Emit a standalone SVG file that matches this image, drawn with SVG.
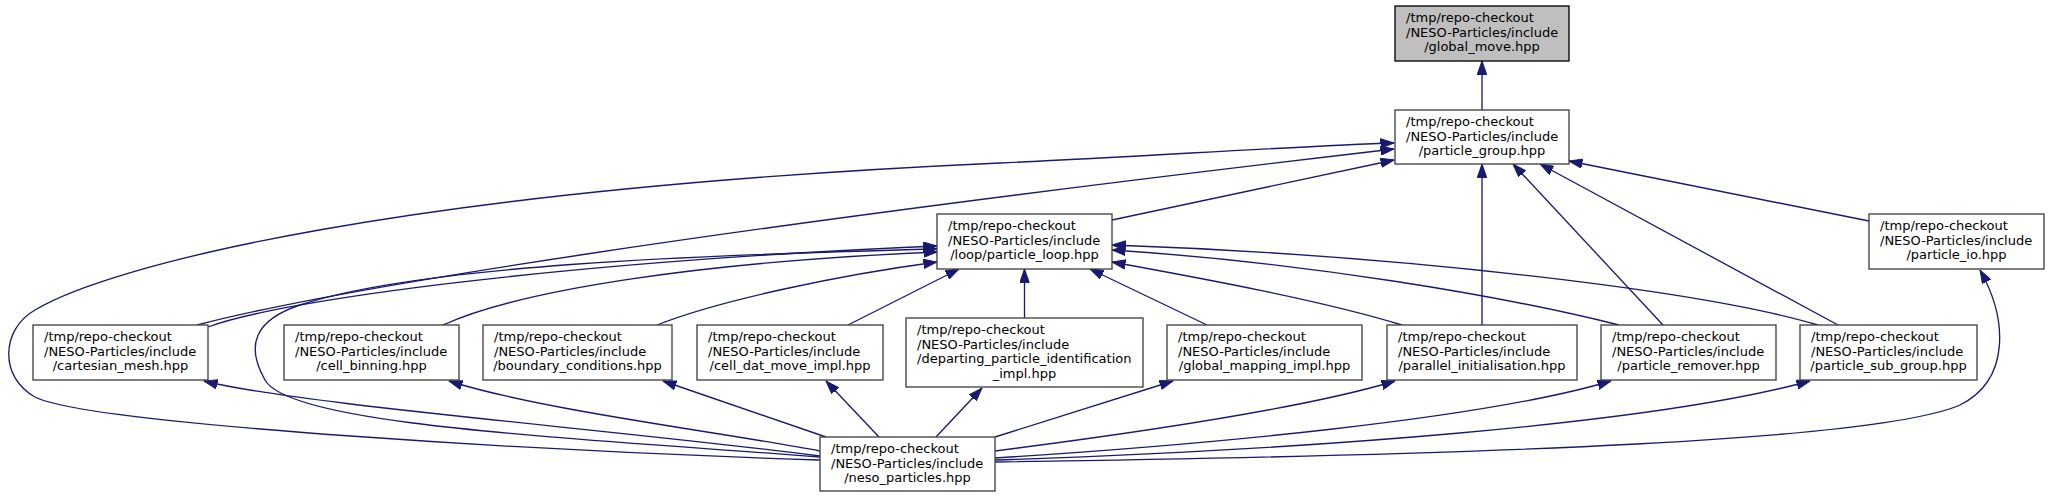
<svg xmlns="http://www.w3.org/2000/svg" width="2049" height="497" viewBox="0 0 2049 497">
<style>
.node rect{fill:#ffffff;stroke:#404040;stroke-width:1.33}
.root rect{fill:#bfbfbf;stroke:#000000}
text{font-family:"DejaVu Sans","Liberation Sans",sans-serif;font-size:13px;fill:#000000}
.c{text-anchor:middle}
.edges path{fill:none;stroke:#191970;stroke-width:1.33;marker-end:url(#arr)}
</style>
<defs>
<marker id="arr" markerUnits="userSpaceOnUse" markerWidth="14" markerHeight="10" viewBox="0 0 14 10" refX="13.5" refY="5" orient="auto">
<path d="M0,0.3 L13.5,5 L0,9.7 z" fill="#191970" stroke="#191970" stroke-width="1"/>
</marker>
</defs>
<rect width="2049" height="497" fill="#ffffff"/>
<g class="edges" id="edges">
<path d="M1482,110 L1482,61"/>
<path d="M1112,220 L1394,160"/>
<path d="M197,325 C330,290 700,230 1394,149"/>
<path d="M820,460 C560,452 90,425 35,397 C0,378 0,330 35,310 C110,265 400,190 1000,163 C1150,156 1300,146 1394,143"/>
<path d="M1482,325 L1482,164"/>
<path d="M1663,325 L1513,164"/>
<path d="M1838,325 L1540,164"/>
<path d="M1869,221 L1569,161"/>
<path d="M208,327 C280,300 560,262 937,246"/>
<path d="M820,457 C560,437 290,425 265,380 C245,345 255,320 300,305 C420,265 700,255 937,249"/>
<path d="M443,325 C520,290 700,262 937,252"/>
<path d="M657,325 C720,300 840,275 937,262"/>
<path d="M848,325 L959,269"/>
<path d="M1024.5,318 L1024.5,269"/>
<path d="M1207,325 L1090,269"/>
<path d="M1402,325 C1320,300 1200,278 1112,262"/>
<path d="M1619,325 C1500,295 1300,262 1112,250"/>
<path d="M1818,325 C1700,290 1400,255 1112,245"/>
<path d="M820,456 C620,430 300,405 204,381"/>
<path d="M820,451 C720,432 540,410 449,381"/>
<path d="M826,437 L663,381"/>
<path d="M879,437 L826,381"/>
<path d="M936,437 L982,388"/>
<path d="M995,437 L1173,381"/>
<path d="M995,451 C1120,435 1300,410 1395,381"/>
<path d="M995,458 C1200,445 1480,420 1611,381"/>
<path d="M995,460 C1300,450 1650,425 1810,381"/>
<path d="M995,462 C1500,455 1880,440 1960,405 C2010,380 2008,320 1980,270"/>
</g>
<g class="node root" id="node_global_move">
<rect x="1395" y="6" width="174" height="55"/>
<text x="1406" y="22">/tmp/repo-checkout</text>
<text x="1406" y="36.5">/NESO-Particles/include</text>
<text class="c" x="1482" y="51">/global_move.hpp</text>
</g>
<g class="node" id="node_particle_group">
<rect x="1395" y="110" width="174" height="54"/>
<text x="1406" y="126">/tmp/repo-checkout</text>
<text x="1406" y="140.5">/NESO-Particles/include</text>
<text class="c" x="1482" y="155">/particle_group.hpp</text>
</g>
<g class="node" id="node_particle_loop">
<rect x="937" y="214" width="175" height="55"/>
<text x="948" y="230">/tmp/repo-checkout</text>
<text x="948" y="244.5">/NESO-Particles/include</text>
<text class="c" x="1024.5" y="259">/loop/particle_loop.hpp</text>
</g>
<g class="node" id="node_particle_io">
<rect x="1869" y="214" width="175" height="55"/>
<text x="1880" y="230">/tmp/repo-checkout</text>
<text x="1880" y="244.5">/NESO-Particles/include</text>
<text class="c" x="1956.5" y="259">/particle_io.hpp</text>
</g>
<g class="node" id="node_cartesian_mesh">
<rect x="33" y="325" width="175" height="55"/>
<text x="44" y="341">/tmp/repo-checkout</text>
<text x="44" y="355.5">/NESO-Particles/include</text>
<text class="c" x="120.5" y="370">/cartesian_mesh.hpp</text>
</g>
<g class="node" id="node_cell_binning">
<rect x="284" y="325" width="175" height="55"/>
<text x="295" y="341">/tmp/repo-checkout</text>
<text x="295" y="355.5">/NESO-Particles/include</text>
<text class="c" x="371.5" y="370">/cell_binning.hpp</text>
</g>
<g class="node" id="node_boundary_conditions">
<rect x="483" y="325" width="189" height="55"/>
<text x="494" y="341">/tmp/repo-checkout</text>
<text x="494" y="355.5">/NESO-Particles/include</text>
<text class="c" x="577.5" y="370">/boundary_conditions.hpp</text>
</g>
<g class="node" id="node_cell_dat_move_impl">
<rect x="697" y="325" width="186" height="55"/>
<text x="708" y="341">/tmp/repo-checkout</text>
<text x="708" y="355.5">/NESO-Particles/include</text>
<text class="c" x="790" y="370">/cell_dat_move_impl.hpp</text>
</g>
<g class="node" id="node_departing">
<rect x="906" y="318" width="237" height="69"/>
<text x="917" y="334">/tmp/repo-checkout</text>
<text x="917" y="348.5">/NESO-Particles/include</text>
<text x="917" y="363">/departing_particle_identification</text>
<text class="c" x="1024.5" y="377.5">_impl.hpp</text>
</g>
<g class="node" id="node_global_mapping_impl">
<rect x="1167" y="325" width="195" height="55"/>
<text x="1178" y="341">/tmp/repo-checkout</text>
<text x="1178" y="355.5">/NESO-Particles/include</text>
<text class="c" x="1264.5" y="370">/global_mapping_impl.hpp</text>
</g>
<g class="node" id="node_parallel_initialisation">
<rect x="1387" y="325" width="190" height="55"/>
<text x="1398" y="341">/tmp/repo-checkout</text>
<text x="1398" y="355.5">/NESO-Particles/include</text>
<text class="c" x="1482" y="370">/parallel_initialisation.hpp</text>
</g>
<g class="node" id="node_particle_remover">
<rect x="1601" y="325" width="175" height="55"/>
<text x="1612" y="341">/tmp/repo-checkout</text>
<text x="1612" y="355.5">/NESO-Particles/include</text>
<text class="c" x="1688.5" y="370">/particle_remover.hpp</text>
</g>
<g class="node" id="node_particle_sub_group">
<rect x="1800" y="325" width="177" height="55"/>
<text x="1811" y="341">/tmp/repo-checkout</text>
<text x="1811" y="355.5">/NESO-Particles/include</text>
<text class="c" x="1888.5" y="370">/particle_sub_group.hpp</text>
</g>
<g class="node" id="node_neso_particles">
<rect x="820" y="437" width="175" height="54"/>
<text x="831" y="453">/tmp/repo-checkout</text>
<text x="831" y="467.5">/NESO-Particles/include</text>
<text class="c" x="907.5" y="482">/neso_particles.hpp</text>
</g>
</svg>
